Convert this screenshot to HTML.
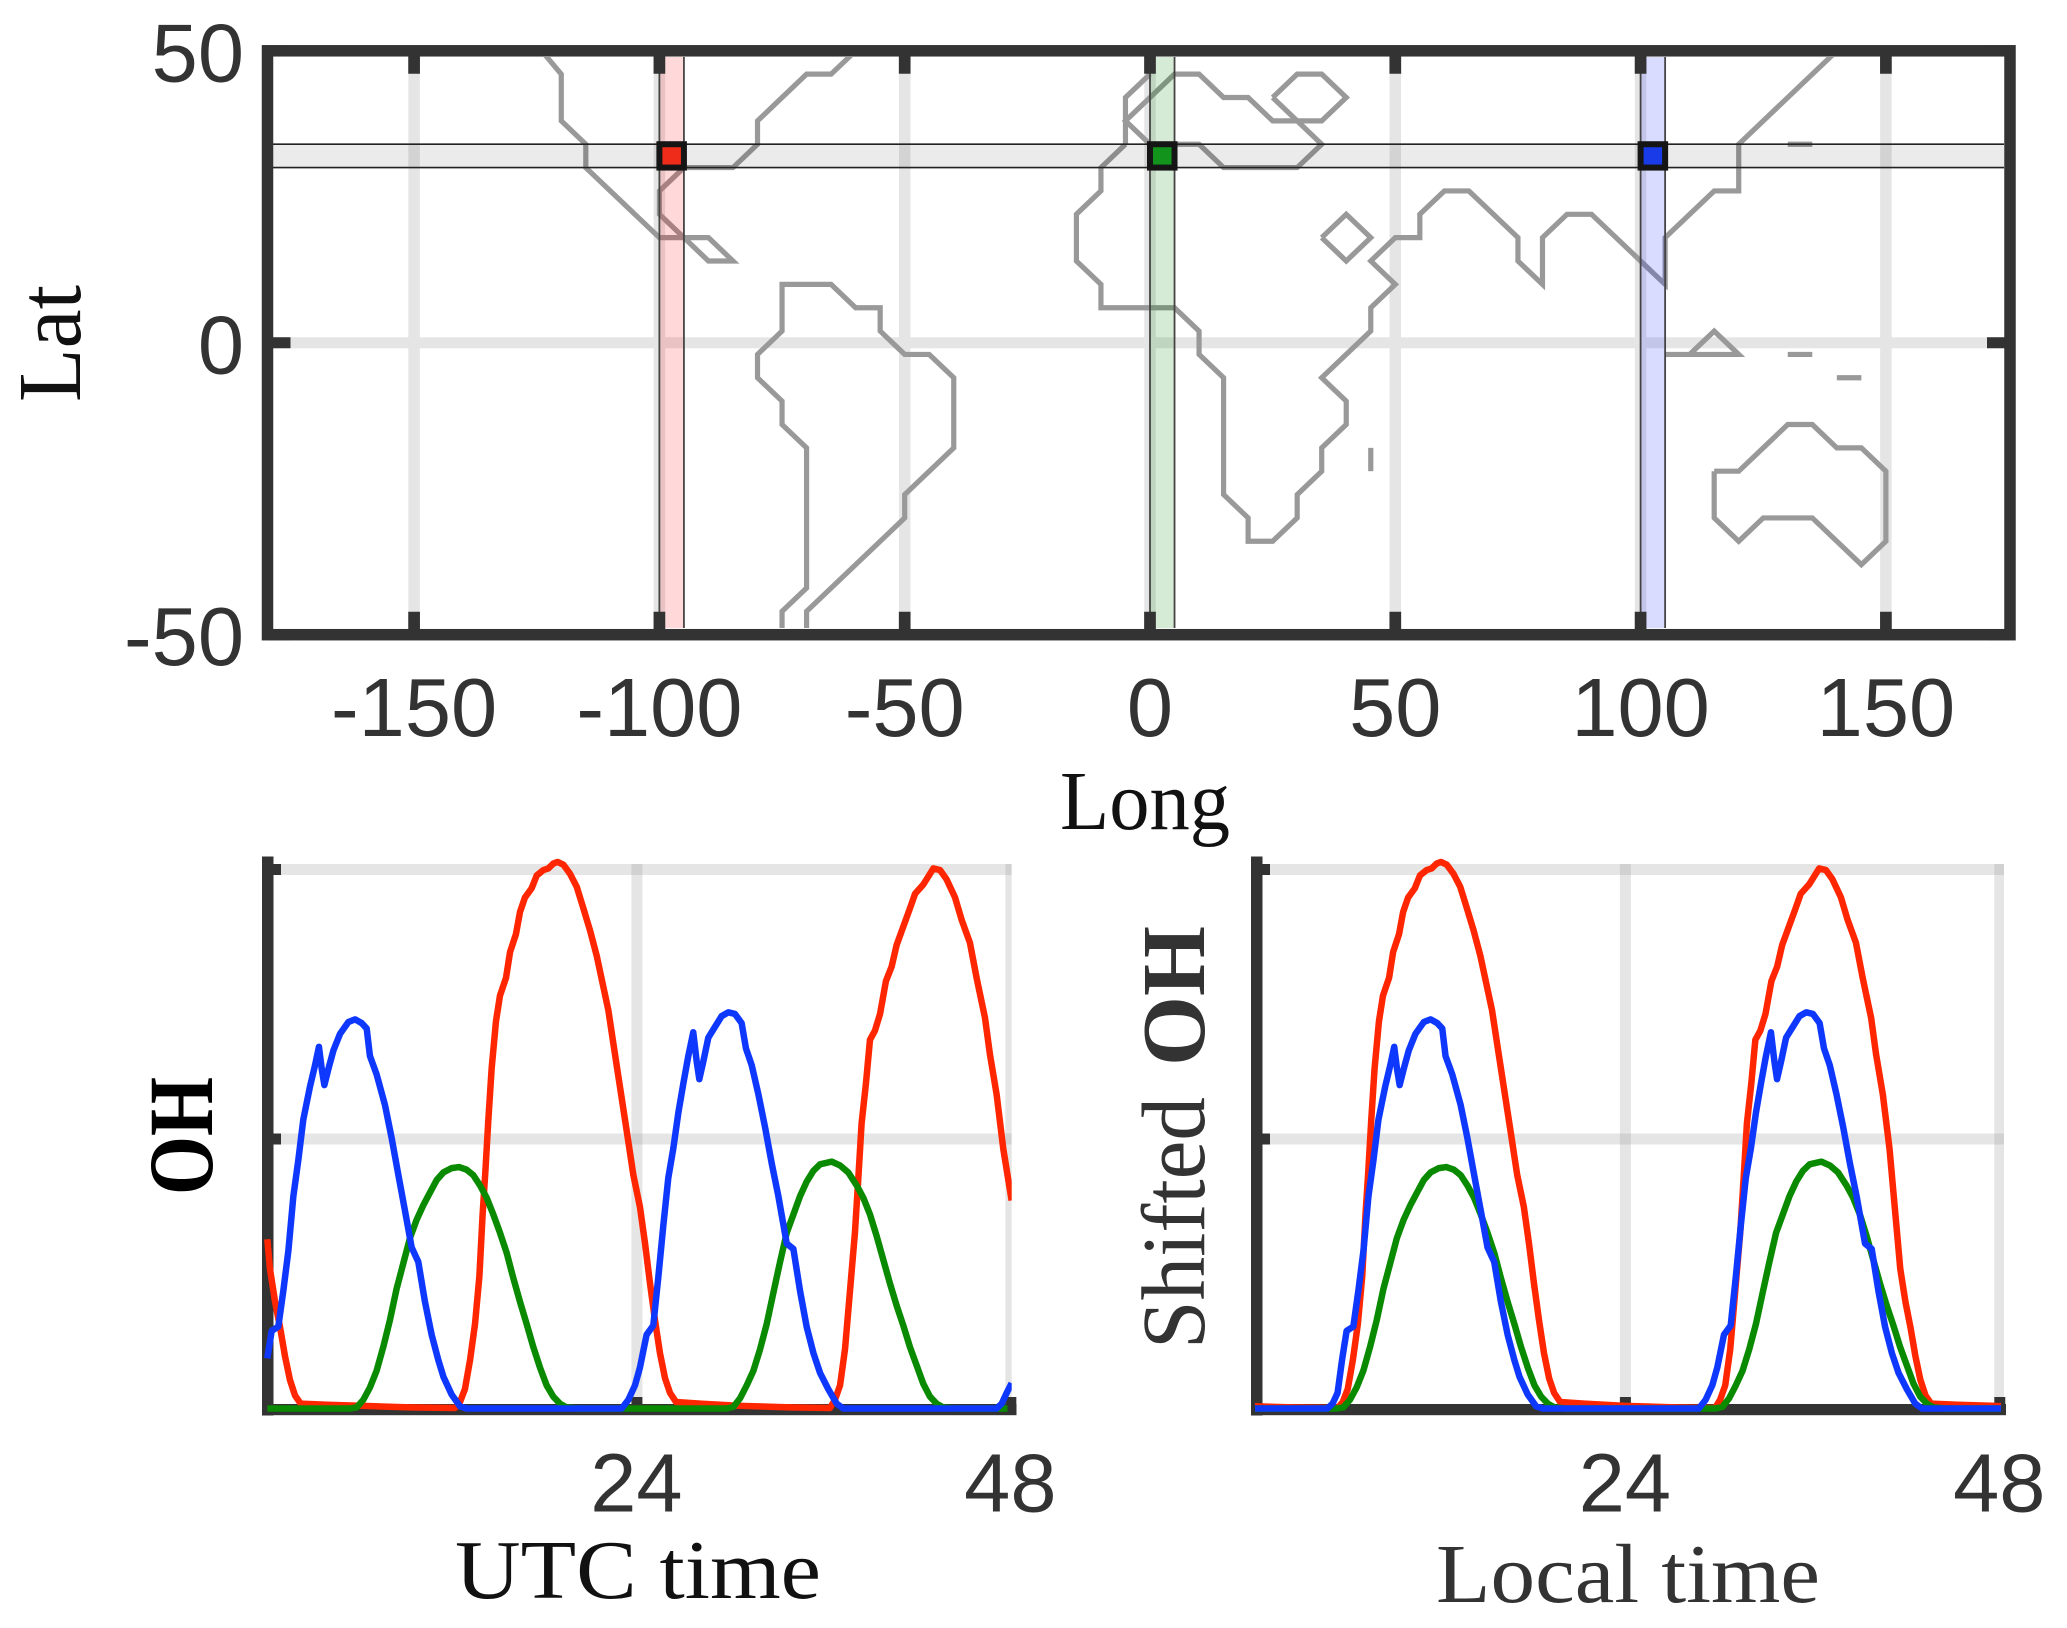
<!DOCTYPE html>
<html lang="en">
<head>
<meta charset="utf-8">
<title>OH map and time series</title>
<style>
html,body{margin:0;padding:0;background:#fff;}
svg{display:block;}
.tick{font-family:"Liberation Sans",sans-serif;font-size:83px;fill:#333;}
.title{font-family:"Liberation Serif",serif;font-size:84px;fill:#111;}
.bold{font-weight:bold;fill:#000;}
</style>
</head>
<body>
<svg id="chart" xmlns="http://www.w3.org/2000/svg" width="2067" height="1628" viewBox="0 0 2067 1628">
  <defs>
    <clipPath id="map-clip"><rect x="273" y="57" width="1731" height="571"/></clipPath>
    <clipPath id="utc-clip"><rect x="262" y="850" width="749.7" height="570"/></clipPath>
    <clipPath id="local-clip"><rect x="1255" y="850" width="749" height="570"/></clipPath>
    <clipPath id="utc-data-clip"><rect x="262" y="850" width="749.7" height="570"/></clipPath>
    <clipPath id="local-data-clip"><rect x="1255" y="850" width="746" height="570"/></clipPath>
  </defs>
  <g id="map-panel"></g>
  <g id="utc-panel"></g>
  <g id="local-panel"></g>

  <text class="title" style="font-size:90px" transform="translate(80,402) rotate(-90)" textLength="117" lengthAdjust="spacingAndGlyphs">Lat</text>
  <text class="title" x="1060" y="829" textLength="170" lengthAdjust="spacingAndGlyphs">Long</text>
  <text class="title bold" style="font-size:92px" transform="translate(212,1195) rotate(-90)" textLength="118" lengthAdjust="spacingAndGlyphs">OH</text>
  <text class="title" x="455" y="1598" textLength="366" lengthAdjust="spacingAndGlyphs">UTC time</text>
  <text class="title" style="fill:#333;font-size:90px" transform="translate(1204,1349) rotate(-90)" textLength="252" lengthAdjust="spacingAndGlyphs">Shifted</text>
  <text class="title bold" style="fill:#333;font-size:90px" transform="translate(1204,1066) rotate(-90)" textLength="140" lengthAdjust="spacingAndGlyphs">OH</text>
  <text class="title" style="fill:#333" x="1436" y="1602" textLength="384" lengthAdjust="spacingAndGlyphs">Local time</text>
</svg>
<script>
// ---- map data ----
var lonTickLabels = [-150, -100, -50, 0, 50, 100, 150];
var latTickLabels = [50, 0, -50];
var latGridValues = [0];
var bandLons = [-100, 0, 100];
var bandWidthDeg = 5;
var bandColors = ['rgba(255,0,0,0.15)', 'rgba(0,128,0,0.16)', 'rgba(30,50,255,0.17)'];
var markerColors = ['#ef2b1a', '#12941c', '#1a3be8'];
var latBand = [30, 34];

var coastNorthAmerica = [[-125,51],[-120,46],[-120,38],[-115,34],[-115,30],[-100,18],[-95,18],[-100,22],[-100,26],[-95,30],[-85,30],[-80,34],[-80,38],[-70,46],[-65,46],[-60,50]];
var coastCuba = [[-95,18],[-90,18],[-85,14],[-90,14],[-95,18]];
var coastSouthAmerica = [[-75,-51],[-75,-46],[-70,-42],[-70,-18],[-75,-14],[-75,-10],[-80,-6],[-80,-2],[-75,2],[-75,10],[-65,10],[-60,6],[-55,6],[-55,2],[-50,-2],[-45,-2],[-40,-6],[-40,-18],[-50,-26],[-50,-30],[-70,-46],[-70,-51]];
var coastAfricaAsia = [[-5,34],[-10,30],[-10,26],[-15,22],[-15,14],[-10,10],[-10,6],[5,6],[10,2],[10,-2],[15,-6],[15,-26],[20,-30],[20,-34],[25,-34],[30,-30],[30,-26],[35,-22],[35,-18],[40,-14],[40,-10],[35,-6],[45,2],[45,6],[50,10],[45,14],[50,18],[55,18],[55,22],[60,26],[65,26],[75,18],[75,14],[80,10],[80,18],[85,22],[90,22],[105,10],[105,18],[115,26],[120,26],[120,34],[140,50]];
var coastIberia = [[-5,34],[-5,42],[0,46]];
var coastEurope = [[0,34],[-5,38],[5,46],[10,46],[15,42],[20,42],[25,38],[30,38],[35,34],[30,30],[15,30],[10,34],[0,34]];
var coastBlackSea = [[25,42],[30,46],[35,46],[40,42],[35,38],[30,38],[25,42]];
var coastRedSea = [[35,18],[40,22],[45,18],[40,14],[35,18]];
var coastIslandA = [[130,34],[135,34]];
var coastIslandB = [[130,-2],[135,-2]];
var coastIslandC = [[140,-6],[145,-6]];
var coastIslandD = [[45,-18],[45,-22]];
var coastBorneo = [[105,-2],[120,-2],[115,2],[110,-2]];
var coastAustralia = [[115,-22],[120,-22],[130,-14],[135,-14],[140,-18],[145,-18],[150,-22],[150,-34],[145,-38],[135,-30],[125,-30],[120,-34],[115,-30],[115,-22]];
var coastlines = [coastNorthAmerica, coastCuba, coastSouthAmerica, coastAfricaAsia, coastIberia, coastEurope, coastBlackSea, coastRedSea, coastIslandA, coastIslandB, coastIslandC, coastIslandD, coastBorneo, coastAustralia];

// ---- OH time series data ----
var timeTickLabels = [24, 48];
var ohGridValues = [1, 0.5];

var redHours = [0.15,0.32,0.65,0.97,1.29,1.61,1.94,2.30,3.98,6.13,9.35,12.26,12.58,12.90,13.23,13.55,13.83,14.04,14.22,14.41,14.62,14.90,15.16,15.55,15.81,16.19,16.45,16.77,17.20,17.53,17.96,18.28,18.60,18.88,19.25,19.68,20.11,20.54,20.97,21.40,21.83,22.15,22.47,22.90,23.33,23.76,24.19,24.52,24.84,25.16,25.48,25.81,26.13,26.52,28.06,30.65,33.87,36.45,36.77,37.10,37.42,37.74,38.06,38.28,38.49,38.77,39.03,39.35,39.68,40.06,40.43,40.75,41.18,41.61,41.94,42.47,43.12,43.55,43.97,44.52,44.94,45.48,45.91,46.45,46.77,47.20,47.63,48.17];
var redOH = [0.314,0.259,0.198,0.151,0.097,0.053,0.024,0.009,0.007,0.005,0.002,0.001,0.012,0.036,0.090,0.157,0.245,0.360,0.441,0.536,0.630,0.718,0.766,0.799,0.847,0.880,0.921,0.948,0.965,0.989,0.999,1.002,1.011,1.014,1.009,0.992,0.968,0.928,0.887,0.840,0.782,0.739,0.678,0.597,0.516,0.434,0.374,0.306,0.232,0.164,0.103,0.056,0.029,0.012,0.009,0.005,0.002,0.001,0.016,0.043,0.110,0.218,0.326,0.428,0.529,0.603,0.684,0.701,0.732,0.793,0.820,0.860,0.894,0.928,0.955,0.972,1.002,0.999,0.982,0.948,0.907,0.864,0.799,0.725,0.657,0.583,0.482,0.386];

var greenHours = [0.15,5.48,5.91,6.34,6.77,7.20,7.63,8.06,8.49,8.92,9.35,9.78,10.21,10.65,11.08,11.51,12.04,12.52,13.01,13.44,13.87,14.30,14.73,15.16,15.59,16.02,16.45,16.88,17.31,17.74,18.17,18.60,19.03,19.46,20.20,29.78,30.22,30.65,31.08,31.51,31.94,32.37,32.80,33.23,33.66,34.09,34.52,34.95,35.38,35.81,36.56,37.10,37.63,38.17,38.60,39.03,39.46,39.89,40.32,40.75,41.18,41.61,42.04,42.47,42.90,43.33,43.76,44.50,47.90];
var greenOH = [0,0,0.002,0.016,0.039,0.070,0.114,0.164,0.222,0.269,0.316,0.350,0.377,0.401,0.424,0.438,0.446,0.448,0.443,0.433,0.414,0.391,0.360,0.326,0.289,0.242,0.198,0.157,0.114,0.076,0.043,0.022,0.009,0.002,0,0,0.003,0.019,0.043,0.070,0.110,0.157,0.215,0.272,0.326,0.360,0.394,0.421,0.441,0.453,0.458,0.451,0.438,0.414,0.391,0.360,0.320,0.276,0.232,0.191,0.154,0.114,0.080,0.046,0.022,0.009,0.002,0,0];

var blueHours = [0.15,0.43,0.86,1.18,1.51,1.83,2.15,2.47,2.90,3.23,3.48,3.66,3.83,4.09,4.41,4.84,5.38,5.81,6.24,6.56,6.77,7.20,7.74,8.17,8.60,9.03,9.46,9.89,10.32,10.75,11.18,11.51,12.04,12.58,13.01,23.01,23.44,23.87,24.19,24.62,25.05,25.38,25.70,26.02,26.34,26.67,26.99,27.31,27.63,27.85,28.02,28.28,28.60,29.03,29.46,29.89,30.32,30.75,31.03,31.40,31.83,32.26,32.69,33.12,33.66,34.09,34.52,34.95,35.38,35.81,36.34,36.88,37.31,47.20,47.53,47.85,48.17];
var blueOH = [0.093,0.144,0.152,0.218,0.293,0.394,0.461,0.536,0.597,0.637,0.671,0.630,0.600,0.630,0.664,0.695,0.717,0.722,0.715,0.705,0.654,0.620,0.563,0.502,0.434,0.367,0.299,0.272,0.198,0.137,0.090,0.059,0.026,0.004,0,0,0.016,0.043,0.076,0.137,0.154,0.245,0.340,0.428,0.482,0.549,0.603,0.654,0.698,0.644,0.611,0.644,0.688,0.708,0.728,0.735,0.732,0.715,0.668,0.637,0.583,0.522,0.455,0.394,0.306,0.296,0.218,0.151,0.103,0.066,0.036,0.009,0,0,0.009,0.029,0.047];

var redShiftHours = -6.7;
var greenShiftHours = 0;
var blueShiftHours = 5.7;

// ---- axis functions ----
function xLon(lon){ return 1150 + 4.906 * lon; }
function yLat(lat){ return 342.75 - 5.839 * lat; }
function xUtc(t){ return 265 + 15.5 * t; }
function xUtcTick(t){ return 263 + 15.58 * t; }
function xLocal(t){ return 1251 + 15.6 * t; }
function yOH(v){ return 1408.5 - 539 * v; }

var NS = 'http://www.w3.org/2000/svg';
function mk(parent, tag, attrs, text){
  var el = document.createElementNS(NS, tag);
  for (var k in attrs) el.setAttribute(k, attrs[k]);
  if (text !== undefined) el.textContent = text;
  parent.appendChild(el);
  return el;
}
function pathFrom(points, xf, yf){
  var d = '';
  for (var i = 0; i < points.length; i++) {
    d += (i ? 'L' : 'M') + xf(points[i][0]).toFixed(2) + ' ' + yf(points[i][1]).toFixed(2);
  }
  return d;
}
var DARK = '#333';
var GRID = '#e5e5e5';

// ---- map panel ----
(function(){
  var g = document.getElementById('map-panel');
  var i, el;
  var frameL = 267.5, frameR = 2010, frameT = yLat(50), frameB = yLat(-50);

  for (i = 0; i < lonTickLabels.length; i++) {
    el = mk(g, 'line', {x1:xLon(lonTickLabels[i]), x2:xLon(lonTickLabels[i]), y1:frameT, y2:frameB, stroke:GRID, 'stroke-width':11.5});
    
    
  }
  for (i = 0; i < latGridValues.length; i++) {
    el = mk(g, 'line', {x1:frameL, x2:frameR, y1:yLat(latGridValues[i]), y2:yLat(latGridValues[i]), stroke:GRID, 'stroke-width':11});
    
    
  }

  var coastGroup = mk(g, 'g', {'clip-path':'url(#map-clip)'});
  
  
  for (i = 0; i < coastlines.length; i++) {
    el = mk(coastGroup, 'path', {d:pathFrom(coastlines[i], xLon, yLat), fill:'none', stroke:'#999', 'stroke-width':5.2, 'stroke-linejoin':'miter'});
    
    
  }

  // latitude band
  el = mk(g, 'rect', {x:273, y:yLat(latBand[1]), width:1731, height:yLat(latBand[0]) - yLat(latBand[1]), fill:'rgba(0,0,0,0.08)', stroke:'none'});
  
  
  for (i = 0; i < latBand.length; i++) {
    el = mk(g, 'line', {x1:273, x2:2004, y1:yLat(latBand[i]), y2:yLat(latBand[i]), stroke:'#222', 'stroke-width':1.6});
    
    
  }

  // longitude bands
  for (i = 0; i < bandLons.length; i++) {
    var x0 = xLon(bandLons[i]), x1 = xLon(bandLons[i] + bandWidthDeg);
    el = mk(g, 'rect', {x:x0, y:57, width:x1 - x0, height:571, fill:bandColors[i]});
    
    
    el = mk(g, 'line', {x1:x0, x2:x0, y1:57, y2:628, stroke:'#444', 'stroke-width':1.8});
    
    
    el = mk(g, 'line', {x1:x1, x2:x1, y1:57, y2:628, stroke:'#444', 'stroke-width':1.8});
    
    
  }

  // ticks
  for (i = 0; i < lonTickLabels.length; i++) {
    var tx = xLon(lonTickLabels[i]);
    el = mk(g, 'line', {x1:tx, x2:tx, y1:frameT, y2:frameT + 23, stroke:DARK, 'stroke-width':11.7});
    
    
    el = mk(g, 'line', {x1:tx, x2:tx, y1:frameB - 23, y2:frameB, stroke:DARK, 'stroke-width':11.7});
    
    
    el = mk(g, 'text', {'class':'tick', x:tx, y:736, 'text-anchor':'middle'}, String(lonTickLabels[i]));
    
    
  }
  for (i = 0; i < latTickLabels.length; i++) {
    var ty = yLat(latTickLabels[i]);
    el = mk(g, 'line', {x1:frameL, x2:frameL + 23, y1:ty, y2:ty, stroke:DARK, 'stroke-width':11});
    
    
    el = mk(g, 'line', {x1:frameR - 23, x2:frameR, y1:ty, y2:ty, stroke:DARK, 'stroke-width':11});
    
    
    el = mk(g, 'text', {'class':'tick', x:244, y:ty + 30.5, 'text-anchor':'end'}, String(latTickLabels[i]));
    
    
  }

  // frame
  el = mk(g, 'rect', {x:frameL, y:frameT, width:frameR - frameL, height:frameB - frameT, fill:'none', stroke:DARK, 'stroke-width':11.5});
  
  

  // location markers
  for (i = 0; i < bandLons.length; i++) {
    var mx0 = xLon(bandLons[i]), mx1 = xLon(bandLons[i] + bandWidthDeg);
    el = mk(g, 'rect', {x:mx0, y:yLat(latBand[1]), width:mx1 - mx0, height:yLat(latBand[0]) - yLat(latBand[1]), fill:markerColors[i], stroke:'#151515', 'stroke-width':6});
    
    
  }
})();

// ---- time-series panels ----
function seriesPoints(hours, values){
  var pts = [];
  for (var i = 0; i < hours.length; i++) pts.push([hours[i], values[i]]);
  return pts;
}
function shiftedPoints(hours, values, shift){
  var pts = [];
  for (var i = 0; i < hours.length; i++) {
    if (hours[i] >= 48) continue;
    var t = hours[i] + shift;
    if (t < 0) t += 48;
    if (t >= 48) t -= 48;
    pts.push([t, values[i]]);
  }
  pts.sort(function(a, b){ return a[0] - b[0]; });
  var first = pts[0], last = pts[pts.length - 1];
  pts.unshift([last[0] - 48, last[1]]);
  pts.push([first[0] + 48, first[1]]);
  return pts;
}
function drawFrame(g, xf, axisLeft, axisRight, gridRight, clipId){
  var i, el;
  var gridGroup = mk(g, 'g', {'clip-path':'url(#' + clipId + ')'});
  
  
  for (i = 0; i < ohGridValues.length; i++) {
    var gy = yOH(ohGridValues[i]);
    el = mk(gridGroup, 'line', {x1:axisLeft, x2:gridRight, y1:gy, y2:gy, stroke:GRID, 'stroke-width':11});
    
    
  }
  for (i = 0; i < timeTickLabels.length; i++) {
    var gx = xf(timeTickLabels[i]);
    el = mk(gridGroup, 'line', {x1:gx, x2:gx, y1:yOH(1) - 5.5, y2:1405, stroke:'rgba(150,150,150,0.25)', 'stroke-width':11});
    
    
  }
  for (i = 0; i < ohGridValues.length; i++) {
    var ty = yOH(ohGridValues[i]);
    el = mk(g, 'line', {x1:axisLeft, x2:axisLeft + 19, y1:ty, y2:ty, stroke:DARK, 'stroke-width':11});
    
    
  }
  for (i = 0; i < timeTickLabels.length; i++) {
    var tx = xf(timeTickLabels[i]);
    el = mk(g, 'line', {x1:Math.min(tx, axisRight - 5.5), x2:Math.min(tx, axisRight - 5.5), y1:1397, y2:1410, stroke:DARK, 'stroke-width':11});
    
    
    el = mk(g, 'text', {'class':'tick', x:tx - 0.5, y:1511.5, 'text-anchor':'middle'}, String(timeTickLabels[i]));
    
    
  }
  el = mk(g, 'rect', {x:axisLeft, y:856.5, width:11.5, height:559, fill:DARK});
  
  
  el = mk(g, 'rect', {x:axisLeft, y:1404, width:axisRight - axisLeft, height:11.2, fill:DARK});
  
  
}

// UTC panel
(function(){
  var g = document.getElementById('utc-panel');
  drawFrame(g, xUtcTick, 262, 1016.5, 1011.7, 'utc-clip');
  var lines = mk(g, 'g', {'clip-path':'url(#utc-data-clip)', fill:'none', 'stroke-width':6.5, 'stroke-linejoin':'round'});
  
  
  var el;
  el = mk(lines, 'path', {d:pathFrom(seriesPoints(redHours, redOH), xUtc, yOH), stroke:'#ff2600'});
  
  
  el = mk(lines, 'path', {d:pathFrom(seriesPoints(greenHours, greenOH), xUtc, yOH), stroke:'#0a8a00'});
  
  
  el = mk(lines, 'path', {d:pathFrom(seriesPoints(blueHours, blueOH), xUtc, yOH), stroke:'#0f38ff'});
  
  
})();

// Local-time panel
(function(){
  var g = document.getElementById('local-panel');
  drawFrame(g, xLocal, 1251, 2006, 2004, 'local-clip');
  var lines = mk(g, 'g', {'clip-path':'url(#local-data-clip)', fill:'none', 'stroke-width':6.5, 'stroke-linejoin':'round'});
  
  
  var el;
  el = mk(lines, 'path', {d:pathFrom(shiftedPoints(redHours, redOH, redShiftHours), xLocal, yOH), stroke:'#ff2600'});
  
  
  el = mk(lines, 'path', {d:pathFrom(shiftedPoints(greenHours, greenOH, greenShiftHours), xLocal, yOH), stroke:'#0a8a00'});
  
  
  el = mk(lines, 'path', {d:pathFrom(shiftedPoints(blueHours, blueOH, blueShiftHours), xLocal, yOH), stroke:'#0f38ff'});
  
  
})();
</script>
</body>
</html>
